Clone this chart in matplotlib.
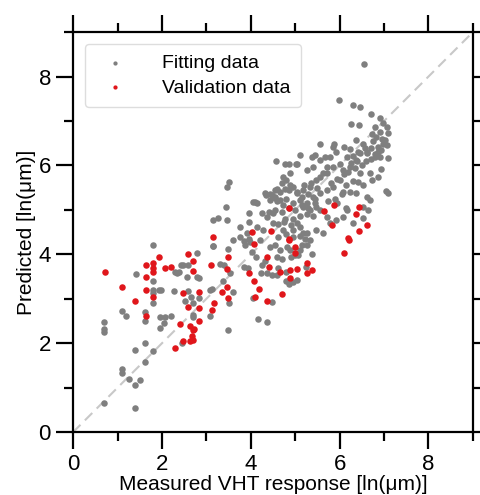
import matplotlib.pyplot as plt

plt.rcParams['font.family'] = ['Liberation Sans', 'DejaVu Sans']

# Fitting data (measured, predicted) in ln(um)
fit_x = [
    0.69, 0.69, 0.69, 0.69, 1.10, 1.19, 1.10, 1.11, 1.25, 1.39, 1.51, 1.39, 1.39, 1.42,
    1.61, 1.61, 1.61, 1.61, 1.80, 1.80, 1.80, 1.80, 1.80, 1.80,
    1.94, 1.98, 1.95, 2.07, 2.20, 1.95, 2.04,
    2.28, 2.29, 2.39, 2.48, 2.58, 2.52, 2.56, 2.58, 2.45, 2.34, 2.44,
    2.70, 2.71, 2.71, 2.79, 2.79, 2.84, 2.84, 2.66,
    3.09, 3.13, 3.09, 3.14, 3.31, 3.39, 3.37, 3.48, 3.48, 3.50, 3.54, 3.59, 3.59,
    3.84, 3.95, 3.84, 3.93, 4.04, 4.17, 4.36, 4.25, 4.32, 4.23, 4.36, 4.47, 4.47, 4.58,
    4.43, 4.55, 4.58, 4.66, 4.79, 4.79, 4.85, 4.90, 5.00, 5.07, 5.11, 4.96, 5.03,
    5.15, 5.26, 5.37, 4.81, 4.88, 5.24, 4.02, 4.12, 4.62, 4.70,
    6.55, 5.99, 6.31, 6.46, 6.70, 6.25, 6.44, 6.91, 6.98, 7.06, 7.08,
    6.79, 6.90, 6.83, 6.98, 6.87, 7.06, 6.95, 7.02, 6.75, 6.70, 6.86, 6.94,
    6.38, 6.53, 6.42, 6.61, 6.79, 6.68, 6.74, 6.87, 7.04, 7.09, 6.94, 7.08,
    5.57, 5.88, 5.93, 6.10, 6.23,
    4.57, 4.77, 5.03, 5.11, 5.37, 5.45, 5.67, 5.78, 5.86,
    3.50, 3.46, 3.44, 3.16, 3.26, 3.46, 3.16,
    3.96, 3.95, 4.10, 4.13, 4.34, 4.43, 4.55, 4.58,
    4.73, 4.79, 4.88, 4.55, 4.66, 4.73, 4.25, 4.36, 4.51,
    3.76, 3.91, 3.76, 4.13, 4.28,
    4.77, 4.96, 5.11, 5.26, 5.41, 4.73, 4.96, 5.11, 5.18,
    4.96, 5.03, 5.18, 5.33, 5.48, 5.56,
    5.11, 5.26, 5.41, 5.56, 5.71, 5.86, 6.01,
    5.18, 5.33, 5.48,
    6.08, 6.23, 6.38, 6.46, 6.61, 6.31,
    6.46, 6.42, 6.38, 6.23, 6.08, 6.53,
    6.61, 6.68, 6.53, 6.64, 6.53,
    5.71, 5.86, 6.01, 6.16,
    5.56, 5.71, 5.78, 5.93, 6.08, 6.16, 6.31,
    5.63, 5.48, 5.26, 5.33,
    5.63, 5.41, 5.56, 5.26, 5.71,
    4.70, 4.89, 4.77, 4.87, 5.02, 4.32, 4.47, 4.55, 4.43, 4.06,
    4.65, 4.85, 5.05, 5.20, 5.35, 5.50, 4.60, 4.80, 4.95, 5.15, 5.30, 5.45,
    4.40, 4.55, 4.70, 4.85, 5.00, 5.15, 5.30, 5.45, 3.99, 3.87, 4.21,
    4.50, 4.62, 4.75, 4.90, 5.05, 4.62, 4.80, 4.95, 5.10, 5.22,
    5.80, 5.95, 6.10, 6.20, 6.35, 5.90, 6.05, 6.15, 6.30, 5.75, 5.95, 6.15,
    6.25, 6.40, 6.50, 6.60, 6.70, 6.80, 6.90, 6.58, 6.72,
]
fit_y = [
    2.47, 2.31, 2.26, 0.65, 2.73, 2.62, 1.42, 1.33, 1.19, 1.05, 1.18, 0.54, 1.85, 3.56,
    2.00, 1.57, 2.49, 2.70, 4.21, 3.41, 3.20, 3.12, 2.90, 1.83,
    3.20, 3.20, 2.60, 2.60, 2.62, 2.34, 2.45,
    3.18, 3.60, 3.60, 3.76, 3.76, 2.94, 3.50, 3.18, 2.00, 3.59, 3.76,
    2.90, 2.64, 2.58, 4.02, 3.48, 3.46, 3.01, 3.05,
    3.20, 3.22, 2.61, 4.19, 3.78, 3.75, 3.41, 4.13, 2.30, 2.91, 3.57, 3.16, 4.32,
    4.30, 4.34, 3.72, 3.69, 3.01, 2.55, 2.47, 3.76, 3.84, 3.57, 3.57, 2.92, 3.54, 3.54,
    4.17, 4.21, 3.95, 4.10, 3.60, 3.39, 3.33, 3.95, 3.99, 3.99, 4.10, 3.37, 3.42,
    4.21, 4.21, 4.01, 4.17, 4.10, 3.72, 4.05, 3.95, 3.70, 3.90,
    8.28, 7.48, 7.36, 7.32, 7.15, 6.94, 6.91, 7.06, 6.96, 6.87, 6.72,
    6.87, 6.76, 6.65, 6.49, 6.42, 6.46, 6.60, 6.58, 6.55, 6.40, 6.30, 6.35,
    6.57, 6.49, 6.31, 6.27, 6.19, 5.82, 5.67, 5.74, 5.43, 5.37, 5.93, 6.16,
    6.49, 6.49, 6.31, 6.42, 6.37,
    6.10, 6.04, 6.04, 6.23, 6.19, 6.23, 6.20, 6.19, 6.42,
    5.63, 5.52, 5.07, 4.77, 4.81, 4.77, 4.19,
    4.92, 4.73, 5.18, 5.15, 5.33, 5.35, 5.45, 5.46,
    5.75, 5.67, 5.82, 5.30, 5.22, 5.11, 4.92, 4.85, 4.92,
    4.62, 4.47, 4.40, 4.62, 4.55,
    4.80, 4.80, 4.87, 4.90, 4.87, 4.55, 4.55, 4.62, 4.47,
    5.52, 5.37, 5.45, 5.52, 5.67, 5.75,
    5.22, 5.15, 5.30, 5.37, 5.45, 5.52, 5.67,
    5.07, 5.00, 5.07,
    5.90, 5.97, 6.12, 6.27, 6.31, 6.22,
    5.82, 5.63, 5.37, 5.41, 5.41, 5.56,
    5.30, 5.22, 5.07, 5.00, 4.81,
    5.82, 5.97, 6.04, 6.19,
    5.00, 4.85, 4.70, 4.77, 4.85, 5.00, 4.70,
    4.47, 4.55, 4.47, 4.32,
    5.82, 5.97, 6.12, 5.90, 5.97,
    5.60, 5.56, 5.48, 6.03, 6.03, 5.37, 5.33, 5.26, 5.22, 5.18,
    5.40, 5.45, 5.40, 5.55, 5.60, 5.50, 5.20, 5.25, 5.15, 5.30, 5.35, 5.25,
    4.95, 5.00, 4.95, 5.05, 5.00, 5.10, 5.05, 5.15, 4.28, 4.21, 4.32,
    4.70, 4.68, 4.72, 4.65, 4.70, 4.40, 4.45, 4.38, 4.42, 4.35,
    5.60, 5.70, 5.80, 5.85, 5.95, 5.25, 5.35, 5.55, 5.65, 5.20, 5.15, 5.05,
    6.05, 6.10, 6.00, 6.10, 6.15, 6.25, 6.20, 6.40, 6.70,
]

# Validation data
val_x = [
    0.71, 1.10, 1.39, 1.63, 1.63, 1.63, 1.63, 1.81, 1.81, 1.81, 1.80, 1.94, 2.06, 2.20,
    2.30, 2.41, 2.48, 2.48, 2.58, 2.58, 2.70, 2.70, 2.64, 2.67, 2.64, 2.70, 2.73, 2.69,
    2.84, 2.84, 2.84, 3.11, 3.18, 3.13, 3.36, 3.46, 3.49, 3.46, 3.48,
    3.97, 4.08, 4.10, 4.18, 4.08, 4.36, 4.40, 4.36, 4.66, 4.70, 4.86, 4.88, 4.88,
    5.00, 5.00, 5.05, 5.26, 5.27, 5.37, 6.10, 6.22,
    3.14, 4.02, 4.46, 4.87, 4.85, 5.65, 5.84, 5.88, 6.18, 6.37, 6.43, 6.43, 6.61,
]
val_y = [
    3.60, 3.27, 2.95, 3.75, 3.48, 3.20, 2.62, 3.80, 3.69, 3.61, 3.03, 3.95, 3.70, 3.72,
    1.89, 2.43, 2.04, 3.12, 4.01, 2.82, 3.84, 3.63, 2.38, 2.17, 2.04, 2.30, 2.33, 2.07,
    3.15, 2.79, 2.49, 3.75, 2.90, 2.75, 3.15, 3.66, 3.93, 3.27, 3.01,
    3.57, 3.39, 3.05, 3.21, 4.23, 3.95, 3.72, 2.94, 3.60, 3.11, 4.32, 3.46, 3.65,
    4.17, 4.02, 3.67, 3.80, 3.57, 3.65, 4.02, 4.32,
    4.38, 4.51, 4.52, 5.05, 4.34, 4.97, 4.66, 5.12, 4.37, 4.90, 5.07, 4.52, 4.66,
]

fig = plt.figure(figsize=(4.81, 4.95), dpi=100)
ax = fig.add_axes([0.152, 0.127, 0.831, 0.808])

ax.plot([0, 9], [0, 9], linestyle=(0, (5, 3)), color='#c8c8c8', linewidth=1.5, zorder=1)
ax.scatter(fit_x, fit_y, s=22, color='#7f7f7f', linewidths=0, label='Fitting data', zorder=2)
ax.scatter(val_x, val_y, s=22, color='#e0161b', linewidths=0, label='Validation data', zorder=3)

ax.set_xlim(0, 9)
ax.set_ylim(0, 9)
ax.set_xticks([0, 2, 4, 6, 8])
ax.set_yticks([0, 2, 4, 6, 8])
ax.set_xticks([1, 3, 5, 7, 9], minor=True)
ax.set_yticks([1, 3, 5, 7, 9], minor=True)
ax.tick_params(which='both', direction='out', top=True, right=True,
               labeltop=False, labelright=False, width=1.6, labelsize=16)
ax.tick_params(which='major', length=12, pad=4)
ax.tick_params(which='minor', length=6.5)
for sp in ax.spines.values():
    sp.set_linewidth(1.6)

ax.set_xlabel('Measured VHT response [ln(μm)]', fontsize=15, labelpad=0)
ax.set_ylabel('Predicted [ln(μm)]', fontsize=15, labelpad=2)

ax.legend(loc='upper left', fontsize=14, markerscale=0.65, handletextpad=1.4,
          borderpad=0.55, labelspacing=0.35, framealpha=1, edgecolor='#dddddd',
          borderaxespad=0.6)

fig.savefig('out.png', dpi=100)
